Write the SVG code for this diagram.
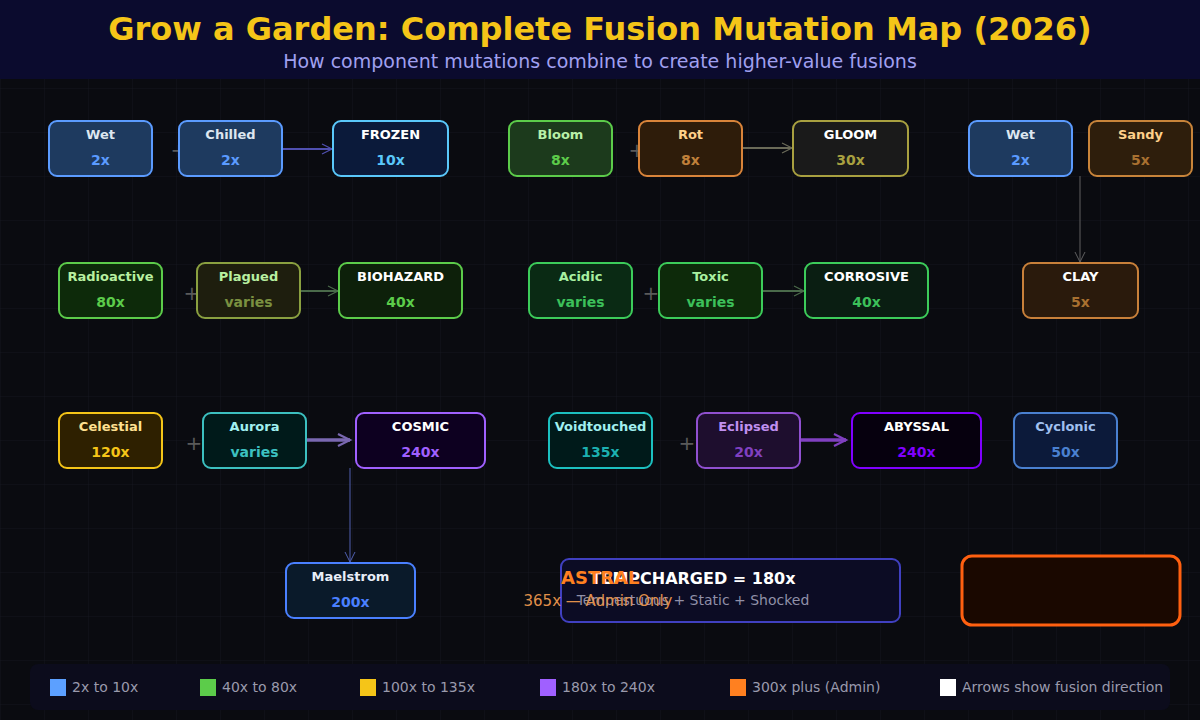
<svg xmlns="http://www.w3.org/2000/svg" width="1200" height="720" viewBox="0 0 1200 720">
<defs>
<pattern id="grid" width="44" height="44" patternUnits="userSpaceOnUse">
<path d="M44 0 L0 0 L0 44" fill="none" stroke="#14161e" stroke-width="1"/>
</pattern>
<marker id="aBlue" markerUnits="userSpaceOnUse" markerWidth="14" markerHeight="14" refX="11" refY="6" orient="auto"><path d="M1,1 L11,6 L1,11" fill="none" stroke="#5050b0" stroke-width="1.2"/></marker>
<marker id="aOlive" markerUnits="userSpaceOnUse" markerWidth="14" markerHeight="14" refX="11" refY="6" orient="auto"><path d="M1,1 L11,6 L1,11" fill="none" stroke="#6a6a58" stroke-width="1.2"/></marker>
<marker id="aGreen" markerUnits="userSpaceOnUse" markerWidth="14" markerHeight="14" refX="11" refY="6" orient="auto"><path d="M1,1 L11,6 L1,11" fill="none" stroke="#4a6a4a" stroke-width="1.2"/></marker>
<marker id="aGray" markerUnits="userSpaceOnUse" markerWidth="14" markerHeight="14" refX="11" refY="6" orient="auto"><path d="M1,1 L11,6 L1,11" fill="none" stroke="#606060" stroke-width="1"/></marker>
<marker id="aSteel" markerUnits="userSpaceOnUse" markerWidth="14" markerHeight="14" refX="11" refY="6" orient="auto"><path d="M1,1 L11,6 L1,11" fill="none" stroke="#5060b0" stroke-width="1"/></marker>
<marker id="aLav" markerUnits="userSpaceOnUse" markerWidth="16" markerHeight="16" refX="13" refY="7" orient="auto"><path d="M1,1 L13,7 L1,13" fill="none" stroke="#7a68b0" stroke-width="2.2"/></marker>
<marker id="aPurp" markerUnits="userSpaceOnUse" markerWidth="16" markerHeight="16" refX="13" refY="7" orient="auto"><path d="M1,1 L13,7 L1,13" fill="none" stroke="#8040c0" stroke-width="2.2"/></marker>
</defs>
<style>
.lbl{font-family:"DejaVu Sans",sans-serif;font-weight:bold;font-size:13px;text-anchor:middle}
.val{font-family:"DejaVu Sans",sans-serif;font-weight:bold;font-size:14px;text-anchor:middle}
.box{stroke-width:2}
.plus{font-family:"DejaVu Sans",sans-serif;font-size:20px;fill:#5a5a5a;text-anchor:middle}
.leg{font-family:"DejaVu Sans",sans-serif;font-size:14px;fill:#9a9aac}
</style>
<rect width="1200" height="720" fill="#0a0b10"/>
<rect width="1200" height="720" fill="url(#grid)"/>
<rect width="1200" height="79" fill="#0b0b2e"/>
<text x="600" y="40" text-anchor="middle" font-family="DejaVu Sans, sans-serif" font-weight="bold" font-size="32" fill="#f5c518">Grow a Garden: Complete Fusion Mutation Map (2026)</text>
<text x="600" y="68" text-anchor="middle" font-family="DejaVu Sans, sans-serif" font-size="19" fill="#a0a0f0">How component mutations combine to create higher-value fusions</text>

<g id="connectors">
<text class="plus" x="179" y="157">+</text>
<line x1="282" y1="149" x2="332" y2="149" stroke="#5050b0" stroke-width="2" marker-end="url(#aBlue)"/>
<text class="plus" x="637" y="157">+</text>
<line x1="742" y1="148" x2="792" y2="148" stroke="#6a6a58" stroke-width="2" marker-end="url(#aOlive)"/>
<line x1="1080" y1="176" x2="1080" y2="262" stroke="#606060" stroke-width="1" marker-end="url(#aGray)"/>
<text class="plus" x="192" y="300">+</text>
<line x1="300" y1="291" x2="338" y2="291" stroke="#4a6a4a" stroke-width="2" marker-end="url(#aGreen)"/>
<text class="plus" x="651" y="300">+</text>
<line x1="762" y1="291" x2="804" y2="291" stroke="#4a6a4a" stroke-width="2" marker-end="url(#aGreen)"/>
<text class="plus" x="194" y="450">+</text>
<line x1="307" y1="440" x2="350" y2="440" stroke="#7a68b0" stroke-width="3.5" marker-end="url(#aLav)"/>
<text class="plus" x="687" y="450">+</text>
<line x1="800" y1="440" x2="846" y2="440" stroke="#8040c0" stroke-width="3.5" marker-end="url(#aPurp)"/>
<line x1="350" y1="468" x2="350" y2="562" stroke="#5060b0" stroke-width="1" marker-end="url(#aSteel)"/>
</g>

<g id="n-wet1"><rect class="box" x="49" y="121" width="103" height="55" rx="8" fill="#1e3a5f" stroke="#5b9bff"/><text class="lbl" x="100.5" y="139" fill="#dde6f0">Wet</text><text class="val" x="100.5" y="165" fill="#5b9bff">2x</text></g>
<g id="n-chilled"><rect class="box" x="179" y="121" width="103" height="55" rx="8" fill="#1e3a5f" stroke="#5b9bff"/><text class="lbl" x="230.5" y="139" fill="#dde6f0">Chilled</text><text class="val" x="230.5" y="165" fill="#5b9bff">2x</text></g>
<g id="n-frozen"><rect class="box" x="333" y="121" width="115" height="55" rx="8" fill="#0b1a3a" stroke="#5ac8fa"/><text class="lbl" x="390.5" y="139" fill="#ffffff">FROZEN</text><text class="val" x="390.5" y="165" fill="#5ac8fa">10x</text></g>
<g id="n-bloom"><rect class="box" x="509" y="121" width="103" height="55" rx="8" fill="#1c3a1c" stroke="#5ccc4a"/><text class="lbl" x="560.5" y="139" fill="#b8f0a8">Bloom</text><text class="val" x="560.5" y="165" fill="#5ccc4a">8x</text></g>
<g id="n-rot"><rect class="box" x="639" y="121" width="103" height="55" rx="8" fill="#2e1c0a" stroke="#d9843a"/><text class="lbl" x="690.5" y="139" fill="#ffd08a">Rot</text><text class="val" x="690.5" y="165" fill="#c0803a">8x</text></g>
<g id="n-gloom"><rect class="box" x="793" y="121" width="115" height="55" rx="8" fill="#1a1a1a" stroke="#a8a040"/><text class="lbl" x="850.5" y="139" fill="#ffffff">GLOOM</text><text class="val" x="850.5" y="165" fill="#a8a040">30x</text></g>
<g id="n-wet2"><rect class="box" x="969" y="121" width="103" height="55" rx="8" fill="#1e3a5f" stroke="#5b9bff"/><text class="lbl" x="1020.5" y="139" fill="#dde6f0">Wet</text><text class="val" x="1020.5" y="165" fill="#5b9bff">2x</text></g>
<g id="n-sandy"><rect class="box" x="1089" y="121" width="103" height="55" rx="8" fill="#2e1e0c" stroke="#c8843a"/><text class="lbl" x="1140.5" y="139" fill="#ffd08a">Sandy</text><text class="val" x="1140.5" y="165" fill="#a87030">5x</text></g>

<g id="n-radioactive"><rect class="box" x="59" y="263" width="103" height="55" rx="8" fill="#0d2a0a" stroke="#5ccc4a"/><text class="lbl" x="110.5" y="281" fill="#b8f0a0">Radioactive</text><text class="val" x="110.5" y="307" fill="#5ccc4a">80x</text></g>
<g id="n-plagued"><rect class="box" x="197" y="263" width="103" height="55" rx="8" fill="#1e1e0e" stroke="#8aa040"/><text class="lbl" x="248.5" y="281" fill="#b8f0a0">Plagued</text><text class="val" x="248.5" y="307" fill="#7a9040">varies</text></g>
<g id="n-biohazard"><rect class="box" x="339" y="263" width="123" height="55" rx="8" fill="#0d200a" stroke="#5ccc4a"/><text class="lbl" x="400.5" y="281" fill="#ffffff">BIOHAZARD</text><text class="val" x="400.5" y="307" fill="#5ccc4a">40x</text></g>
<g id="n-acidic"><rect class="box" x="529" y="263" width="103" height="55" rx="8" fill="#0a2a14" stroke="#3ccc5a"/><text class="lbl" x="580.5" y="281" fill="#a8f0a0">Acidic</text><text class="val" x="580.5" y="307" fill="#3cc05a">varies</text></g>
<g id="n-toxic"><rect class="box" x="659" y="263" width="103" height="55" rx="8" fill="#0d2a0a" stroke="#3ccc5a"/><text class="lbl" x="710.5" y="281" fill="#a8f0a0">Toxic</text><text class="val" x="710.5" y="307" fill="#3cc05a">varies</text></g>
<g id="n-corrosive"><rect class="box" x="805" y="263" width="123" height="55" rx="8" fill="#0a1e12" stroke="#3ccc5a"/><text class="lbl" x="866.5" y="281" fill="#ffffff">CORROSIVE</text><text class="val" x="866.5" y="307" fill="#3cc05a">40x</text></g>
<g id="n-clay"><rect class="box" x="1023" y="263" width="115" height="55" rx="8" fill="#2a1a0c" stroke="#c8803a"/><text class="lbl" x="1080.5" y="281" fill="#ffffff">CLAY</text><text class="val" x="1080.5" y="307" fill="#a87030">5x</text></g>

<g id="n-celestial"><rect class="box" x="59" y="413" width="103" height="55" rx="8" fill="#2e2000" stroke="#f5c518"/><text class="lbl" x="110.5" y="431" fill="#ffe090">Celestial</text><text class="val" x="110.5" y="457" fill="#f5c518">120x</text></g>
<g id="n-aurora"><rect class="box" x="203" y="413" width="103" height="55" rx="8" fill="#001a1a" stroke="#3cc0c0"/><text class="lbl" x="254.5" y="431" fill="#a0f0f0">Aurora</text><text class="val" x="254.5" y="457" fill="#3cc0c0">varies</text></g>
<g id="n-cosmic"><rect class="box" x="356" y="413" width="129" height="55" rx="8" fill="#0d0020" stroke="#a060ff"/><text class="lbl" x="420.5" y="431" fill="#ffffff">COSMIC</text><text class="val" x="420.5" y="457" fill="#a060ff">240x</text></g>
<g id="n-voidtouched"><rect class="box" x="549" y="413" width="103" height="55" rx="8" fill="#001a1a" stroke="#1cc0c0"/><text class="lbl" x="600.5" y="431" fill="#a0f0f0">Voidtouched</text><text class="val" x="600.5" y="457" fill="#1cb0b0">135x</text></g>
<g id="n-eclipsed"><rect class="box" x="697" y="413" width="103" height="55" rx="8" fill="#1e0e2e" stroke="#9050d0"/><text class="lbl" x="748.5" y="431" fill="#c090f0">Eclipsed</text><text class="val" x="748.5" y="457" fill="#8040c0">20x</text></g>
<g id="n-abyssal"><rect class="box" x="852" y="413" width="129" height="55" rx="8" fill="#06000e" stroke="#8000ff"/><text class="lbl" x="916.5" y="431" fill="#ffffff">ABYSSAL</text><text class="val" x="916.5" y="457" fill="#8000ff">240x</text></g>
<g id="n-cyclonic"><rect class="box" x="1014" y="413" width="103" height="55" rx="8" fill="#0c1a3a" stroke="#4a80d0"/><text class="lbl" x="1065.5" y="431" fill="#a0c0f0">Cyclonic</text><text class="val" x="1065.5" y="457" fill="#4a80d0">50x</text></g>

<g id="n-maelstrom"><rect class="box" x="286" y="563" width="129" height="55" rx="8" fill="#0a1a2a" stroke="#4a80ff"/><text class="lbl" x="350.5" y="581" fill="#e8eef8">Maelstrom</text><text class="val" x="350.5" y="607" fill="#4a80ff">200x</text></g>

<g id="n-tempcharged">
<rect x="561" y="559" width="339" height="63" rx="8" fill="#0c0c24" stroke="#4040c0" stroke-width="2"/>
<text x="693" y="584" text-anchor="middle" font-family="DejaVu Sans, sans-serif" font-weight="bold" font-size="16" fill="#ffffff">TEMPCHARGED = 180x</text>
<text x="693" y="605" text-anchor="middle" font-family="DejaVu Sans, sans-serif" font-size="14" fill="#9090a8">Tempestuous + Static + Shocked</text>
</g>
<g id="n-astral">
<rect x="962" y="556" width="218" height="69" rx="10" fill="#1a0800" stroke="#ff6010" stroke-width="3"/>
<text x="561" y="584" font-family="DejaVu Sans, sans-serif" font-weight="bold" font-size="18" fill="#ff8020">ASTRAL</text>
<text x="598" y="606" text-anchor="middle" font-family="DejaVu Sans, sans-serif" font-size="15" fill="#e0904a">365x — Admin Only</text>
</g>

<g id="legend">
<rect x="30" y="664" width="1140" height="46" rx="8" fill="#0c0c1c"/>
<rect x="50" y="679" width="16" height="17" fill="#5ca0ff"/><text class="leg" x="72" y="692">2x to 10x</text>
<rect x="200" y="679" width="16" height="17" fill="#5ccc4a"/><text class="leg" x="222" y="692">40x to 80x</text>
<rect x="360" y="679" width="16" height="17" fill="#f5c518"/><text class="leg" x="382" y="692">100x to 135x</text>
<rect x="540" y="679" width="16" height="17" fill="#a060ff"/><text class="leg" x="562" y="692">180x to 240x</text>
<rect x="730" y="679" width="16" height="17" fill="#ff8020"/><text class="leg" x="752" y="692">300x plus (Admin)</text>
<rect x="940" y="679" width="16" height="17" fill="#ffffff"/><text class="leg" x="962" y="692">Arrows show fusion direction</text>
</g>
</svg>
